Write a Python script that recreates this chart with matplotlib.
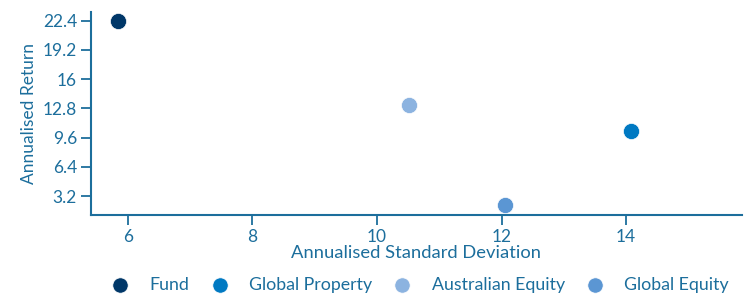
import matplotlib
matplotlib.use("Agg")
import matplotlib.pyplot as plt

series = ["Fund", "Global Property", "Australian Equity", "Global Equity"]
std_dev = [5.85, 14.08, 10.51, 12.06]
returns = [22.35, 10.29, 13.15, 2.18]
colors = ["#003768", "#0079c2", "#8cb3e0", "#5b96d3"]
xticks = [6, 8, 10, 12, 14]
yticks = [3.2, 6.4, 9.6, 12.8, 16, 19.2, 22.4]
ytick_labels = ["3.2", "6.4", "9.6", "12.8", "16", "19.2", "22.4"]

txt = "#1c6e9c"
plt.rcParams['font.family'] = ['Lato', 'DejaVu Sans']

fig = plt.figure(figsize=(7.45, 2.97), dpi=100)
ax = fig.add_axes([0.122, 0.276, 0.874, 0.684])

for name, x, y, c in zip(series, std_dev, returns, colors):
    ax.scatter([x], [y], s=135, color=c, label=name, edgecolors="white", linewidths=0.5, zorder=3)

ax.set_xlim(5.41, 15.86)
ax.set_ylim(1.12, 23.35)
ax.set_xticks(xticks)
ax.set_yticks(yticks)
ax.set_yticklabels(ytick_labels)

for s in ["top", "right"]:
    ax.spines[s].set_visible(False)
for s in ["left", "bottom"]:
    ax.spines[s].set_color(txt)
    ax.spines[s].set_linewidth(1.5)
ax.tick_params(colors=txt, labelsize=12.5, length=7, width=1.3, pad=3)

ax.set_xlabel("Annualised Standard Deviation", color=txt, fontsize=13.2, labelpad=0)
ax.set_ylabel("Annualised Return", color=txt, fontsize=12.5, labelpad=4)

leg = fig.legend(loc="center", bbox_to_anchor=(0.564, 0.04), ncol=4, frameon=False,
                 fontsize=12.8, handlelength=1.0, handletextpad=1.15,
                 columnspacing=1.2, markerscale=0.95)
for t in leg.get_texts():
    t.set_color(txt)

fig.savefig("out.png", dpi=100)
